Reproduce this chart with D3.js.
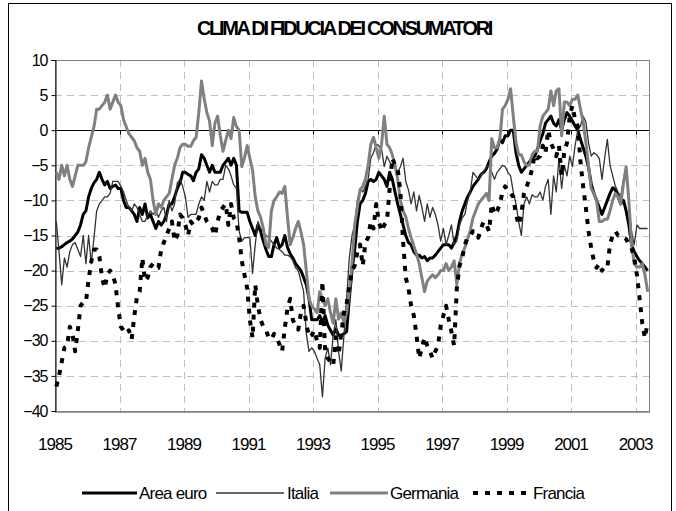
<!DOCTYPE html>
<html>
<head>
<meta charset="utf-8">
<script src="https://cdnjs.cloudflare.com/ajax/libs/d3/7.8.5/d3.min.js"></script>
<style>
  html, body { margin: 0; padding: 0; background: #fff; }
  svg { display: block; }
  text { font-family: "Liberation Sans", Arial, sans-serif; fill: #000; }
</style>
</head>
<body>
<div id="chart"></div>
<script>
const width = 676;
const height = 511;

// Monthly data, January 1985 - May 2003 (one row per year)
const startYear = 1985;

const areaEuro = [
  -16.8, -16.8, -16.6, -16.3, -16, -15.8, -15.5, -15, -14.5, -13.5, -12, -11.5,
  -9.5, -8.3, -7.5, -7, -6, -7, -7.8, -7.3, -8.3, -8, -7.8, -8.3,
  -8.3, -10, -11, -11, -11.5, -12, -13, -11, -12, -10.5, -12.5, -12,
  -13, -14, -13, -13.5, -13, -12, -10.5, -10.5, -9.5, -8.3, -7.5, -6,
  -6, -6.3, -6.5, -7.2, -6, -5.5, -3.5, -4, -5, -6, -5, -6,
  -6, -6, -5, -4.5, -4, -5, -4, -5, -11.5, -11.7, -11.7, -11.7,
  -13, -14, -15, -13.5, -14.4, -15.8, -17, -18, -18, -16.3, -15.3, -16.7,
  -16.3, -15, -16.7, -17.6, -18.2, -19, -19.5, -20, -21, -22, -24, -27,
  -27, -27, -26.4, -27.4, -26.4, -27.8, -28.5, -29.2, -28.3, -29.2, -29.2, -29,
  -28.7, -24, -20, -17, -13, -10.5, -10, -9, -7.3, -7, -7.3, -7,
  -6, -6.5, -7, -8, -6, -7, -8.8, -10.5, -12, -13.5, -15, -16,
  -16.3, -17.3, -17.8, -17.8, -18.2, -18, -18.6, -18.2, -18.2, -17.8, -17.3, -16.8,
  -16.3, -16.3, -16.3, -16.8, -16, -15, -13, -11.5, -10.5, -9.5, -8.8, -8,
  -7.5, -7, -6.3, -6, -5.5, -4.5, -3.7, -3.3, -2.7, -1.3, -1.8, -0.8,
  -0.8, 0, 0, -3.2, -5, -6, -5.5, -5, -4.5, -4, -3.7, -2.7,
  -1.5, -0.5, 1, 1.5, 2, 1, 0.6, 1.5, 0, 1.5, 2.5, 2,
  1.3, 0.6, 0, -1.3, -2.5, -3.7, -5.3, -7.6, -9, -10, -11, -12,
  -11, -10, -9, -8.2, -8.5, -9.5, -10.5, -10, -11.5, -13.5, -16.3, -17.3,
  -18, -18.6, -19, -19.5, -20
];

const italia = [
  -13, -17.3, -22, -18.2, -19.5, -17.3, -16.3, -16, -17, -18, -15, -19,
  -15, -19, -15.3, -11.5, -10.5, -10, -9.5, -9.5, -9, -7.3, -7.3, -7.3,
  -8, -8.8, -10, -11, -11.5, -10.5, -11, -12, -13, -13, -12, -11.5,
  -12, -11.5, -12.4, -11.5, -11, -13, -10, -11.5, -10.5, -7.5, -7, -8,
  -9.5, -12.4, -12, -12, -12, -10.5, -9.5, -10, -7.3, -8.8, -7.3, -7.8,
  -7.8, -7, -7, -5, -5.5, -6.5, -7.8, -8.3, -14.4, -15.8, -15.3, -15.3,
  -15.3, -20.4, -16.3, -13, -14, -14.4, -15, -15.3, -15.8, -16.3, -16.8, -17,
  -17.3, -17.8, -17.8, -18, -18.6, -19.6, -20, -21.5, -23, -29, -31.5, -31,
  -31.5, -32.5, -33.4, -38, -32.5, -31, -33.4, -29.2, -27, -31.5, -34.3, -29.2,
  -24, -18.2, -15, -13.5, -10, -8.3, -8.8, -8, -7, -4, -3.2, -2,
  -2.2, -2.7, -5.2, -3.7, -4.5, -5, -5.2, -6, -5.2, -4, -7.3, -8.5,
  -10.5, -8.8, -11.5, -9.3, -11, -13, -10.5, -12.4, -11, -12, -13.5, -15.8,
  -14, -16.3, -15, -13.5, -16.3, -15.8, -13.5, -12.5, -12, -10, -8.8, -6,
  -6.5, -7, -6.5, -6, -5.2, -5, -6, -7, -6, -5.5, -5, -5.2,
  -6, -6.5, -8.8, -10.5, -13, -15, -10.5, -9.5, -10.5, -9.2, -9.5, -9.5,
  -8.8, -10, -8, -7, -12, -6.5, -8.8, -4, -8.3, -5, -6.5, -3.7,
  -5.2, -2.2, 0, 0.6, 2, 1.2, -1.8, -3.7, -3.2, -3.5, -4, -7,
  -4, -1.3, -5, -6.5, -8, -8.8, -9.5, -7, -5.2, -10.5, -14.4, -16.3,
  -13.5, -14, -14, -14, -14
];

const germania = [
  -6, -7, -5, -6.5, -5, -7, -8, -6.5, -5, -5, -5, -4.5,
  -2.5, -1, 0.5, 3, 3, 3.5, 4, 5, 3, 4, 5, 4,
  3.5, 1.5, 0.5, -0.5, -1, -1.5, -2.5, -3, -5, -4, -6, -7,
  -10, -12, -10.5, -11, -10, -9.5, -9, -7, -5, -4, -2.5, -2,
  -2, -2.3, -2.3, -1.5, -1, 2.5, 7, 4.5, 2.5, 1.3, -2.2, 1,
  2, -0.8, -3, -1.5, 0, -1.2, 1.8, 0.5, 0, -5.2, -3.9, -2.2,
  -4, -5.7, -9.5, -11.5, -12.4, -14, -16.3, -16.7, -11.5, -10, -9.5, -8.8,
  -9, -8, -12.4, -16.3, -15.3, -14, -13, -14.5, -16.3, -20, -24, -25,
  -25.5, -26, -23, -24, -25, -24, -26, -27.5, -24, -26.9, -26, -27.5,
  -26, -23, -19, -13.5, -11, -8.5, -8, -7, -5, -2, -1, -2.5,
  -4, -2, 2, -2, -2.5, -3.5, -5, -7, -10, -11.5, -12.3, -14,
  -15.3, -16.5, -17.6, -19, -21, -23, -21.5, -21, -20.6, -21, -20.6, -20,
  -20, -19, -20, -19.5, -18.6, -22, -19, -17.6, -16.7, -15.5, -14.3, -12.5,
  -11.5, -10.5, -10, -9.5, -9, -10, -1.2, -2.5, -2.5, -1.2, 3, 3.5,
  4.4, 5.9, 2, -1.7, -3.5, -3.5, -4.5, -5, -5, -3.5, -3, -3,
  0.6, 2, 2.5, 3, 5.6, 3.5, 5.6, 5.9, -0.8, 4, 4, 3.5,
  4.4, 4.4, 5, 3, 1.2, -1.7, -5, -8.3, -9, -10, -13, -13,
  -12.7, -12.7, -11.5, -10, -9, -9.5, -10.5, -7.6, -5.2, -10, -16.2, -19,
  -19.5, -19.5, -19, -20.6, -23
];

const francia = [
  -36.5, -35, -33, -31, -30.8, -28, -29, -31.5, -28.5, -25, -24.5, -24.5,
  -21.3, -18.7, -17, -17, -18, -21, -22.5, -20.5, -20, -20.5, -22, -25.3,
  -28, -28.5, -29, -28.5, -29.8, -26.5, -23.7, -23, -18.2, -21.5, -21, -19.5,
  -19, -19.5, -19.6, -17, -16, -15, -14, -13, -15.8, -15, -12, -12.5,
  -13.5, -15, -13, -13.5, -13, -12.5, -11, -12, -13, -13.5, -14, -15,
  -13, -11.5, -11, -10.5, -13.5, -10.5, -12.5, -13, -15.3, -18.6, -20.6, -22.5,
  -27, -29.6, -22, -25, -27, -28, -28.5, -29.5, -29.8, -29, -29.5, -30.5,
  -31.5, -28.2, -25.4, -24, -27, -28, -28.4, -26, -25, -27.5, -29.5, -29.2,
  -28.5, -30, -31, -21.5, -31.5, -32.5, -33, -33.5, -29.5, -32, -29, -26,
  -24.7, -22.2, -20, -19.3, -17.3, -16.3, -19.3, -16, -15.3, -13, -14, -10.5,
  -13, -14.4, -13.5, -13, -8.3, -4, -5, -5.5, -8.8, -15.8, -21, -22.5,
  -25, -26.4, -29.2, -32.5, -31, -29.5, -30.7, -31.5, -32.5, -31.5, -30.7, -27.8,
  -26.4, -25, -27, -28.7, -30.7, -22.5, -19.3, -18.2, -16.3, -15.3, -15, -14.4,
  -14.4, -15.3, -14, -13, -13.5, -14.4, -10.5, -12, -11.5, -10.5, -8.8, -8,
  -8.8, -9, -9.5, -12, -13.5, -12, -9, -8, -7, -5.5, -3.5, -4,
  -3.7, -2.2, -3.2, 0, -1.8, -2.7, -3.7, -2.2, -6.5, -3, -1.8, 2,
  3.5, 1.5, 0.6, -4.5, -8, -11, -14.4, -16.8, -18.6, -19.6, -19, -20,
  -19.5, -19.6, -16.2, -15, -14.4, -15, -15, -15.3, -15.5, -16.3, -16.8, -18.2,
  -20.6, -24, -27.5, -29.6, -27.3
];

const yTicks = [10, 5, 0, -5, -10, -15, -20, -25, -30, -35, -40];
const xTickYears = [1985, 1987, 1989, 1991, 1993, 1995, 1997, 1999, 2001, 2003];

const series = [
  { name: "Area euro", values: areaEuro, color: "#000", width: 3, dash: null },
  { name: "Italia", values: italia, color: "#333", width: 1.3, dash: null },
  { name: "Germania", values: germania, color: "#808080", width: 3, dash: null },
  { name: "Francia", values: francia, color: "#000", width: 4, dash: "5,7" }
];

const plot = { left: 55, top: 60, right: 649, bottom: 411 };
const nMonths = areaEuro.length;

const x = d3.scaleLinear().domain([0, nMonths]).range([plot.left, plot.right]);
const y = d3.scaleLinear().domain([-40, 10]).range([plot.bottom, plot.top]);

const svg = d3.select("#chart")
  .append("svg")
  .attr("width", width)
  .attr("height", height);

// outer frame
svg.append("rect")
  .attr("x", 8.5).attr("y", 3.5)
  .attr("width", 663).attr("height", 520)
  .attr("fill", "none")
  .attr("stroke", "#000")
  .attr("stroke-width", 1);

// title
svg.append("text")
  .attr("x", 344).attr("y", 35)
  .attr("text-anchor", "middle")
  .style("font-size", "20px")
  .style("font-weight", "bold")
  .style("letter-spacing", "-2.3px")
  .text("CLIMA DI FIDUCIA DEI CONSUMATORI");

// horizontal grid
svg.append("g")
  .selectAll("line")
  .data(yTicks.filter(d => d !== 0 && d !== -40 && d !== 10))
  .join("line")
  .attr("x1", plot.left).attr("x2", plot.right)
  .attr("y1", d => Math.round(y(d)) + 0.5)
  .attr("y2", d => Math.round(y(d)) + 0.5)
  .attr("stroke", "#c0c0c0")
  .attr("stroke-dasharray", "7,5");

// vertical grid, every 24 months
const gridMonths = xTickYears.slice(1).map(yr => (yr - startYear) * 12);
svg.append("g")
  .selectAll("line")
  .data(gridMonths)
  .join("line")
  .attr("x1", d => Math.round(x(d)) + 0.5)
  .attr("x2", d => Math.round(x(d)) + 0.5)
  .attr("y1", plot.top).attr("y2", plot.bottom)
  .attr("stroke", "#c0c0c0")
  .attr("stroke-dasharray", "7,5");

// plot area border
svg.append("rect")
  .attr("x", plot.left + 0.5).attr("y", plot.top + 0.5)
  .attr("width", plot.right - plot.left).attr("height", plot.bottom - plot.top)
  .attr("fill", "none")
  .attr("stroke", "#808080")
  .attr("stroke-width", 1);
svg.append("line")
  .attr("x1", plot.left).attr("x2", plot.right + 1)
  .attr("y1", plot.bottom + 1.5).attr("y2", plot.bottom + 1.5)
  .attr("stroke", "#a0a0a0");

// y axis
const yAxis = d3.axisLeft(y).tickValues(yTicks).tickSize(4).tickPadding(4);
const gy = svg.append("g")
  .attr("transform", `translate(${plot.left + 0.5},0)`)
  .call(yAxis);
gy.select(".domain").attr("stroke", "#000");
gy.selectAll(".tick line").attr("stroke", "#000");
gy.selectAll(".tick text")
  .style("font-family", '"Liberation Sans", Arial, sans-serif')
  .style("font-size", "16px")
  .style("letter-spacing", "-1px")
  .attr("fill", "#000");

// category axis on zero line
const zeroY = Math.round(y(0)) + 0.5;
svg.append("line")
  .attr("x1", plot.left).attr("x2", plot.right)
  .attr("y1", zeroY).attr("y2", zeroY)
  .attr("stroke", "#000");
svg.append("g")
  .selectAll("line")
  .data(gridMonths)
  .join("line")
  .attr("x1", d => Math.round(x(d)) + 0.5)
  .attr("x2", d => Math.round(x(d)) + 0.5)
  .attr("y1", zeroY).attr("y2", zeroY + 4)
  .attr("stroke", "#000");

// year labels at the bottom
svg.append("g")
  .selectAll("text")
  .data(xTickYears)
  .join("text")
  .attr("x", d => x((d - startYear) * 12))
  .attr("y", 450)
  .attr("text-anchor", "middle")
  .style("font-size", "17px")
  .style("letter-spacing", "-1px")
  .text(d => d);

// series lines
const line = d3.line()
  .x((d, i) => x(i + 0.5))
  .y(d => y(d));

svg.append("g")
  .selectAll("path")
  .data(series)
  .join("path")
  .attr("d", d => line(d.values))
  .attr("fill", "none")
  .attr("stroke", d => d.color)
  .attr("stroke-width", d => d.width)
  .attr("stroke-linejoin", "round")
  .attr("stroke-dasharray", d => d.dash);

// legend
const legendY = 493;
const legendItems = [
  { x0: 82, x1: 137, tx: 139 },
  { x0: 216, x1: 284, tx: 287 },
  { x0: 330, x1: 388, tx: 390 },
  { x0: 473, x1: 532, tx: 533 }
];
const legend = svg.append("g");
series.forEach((s, i) => {
  const it = legendItems[i];
  legend.append("line")
    .attr("x1", it.x0).attr("x2", it.x1)
    .attr("y1", legendY).attr("y2", legendY)
    .attr("stroke", s.color)
    .attr("stroke-width", s.width)
    .attr("stroke-dasharray", s.dash);
  legend.append("text")
    .attr("x", it.tx).attr("y", legendY + 6)
    .style("font-size", "17px")
    .style("letter-spacing", "-0.8px")
    .text(s.name);
});
</script>
</body>
</html>
